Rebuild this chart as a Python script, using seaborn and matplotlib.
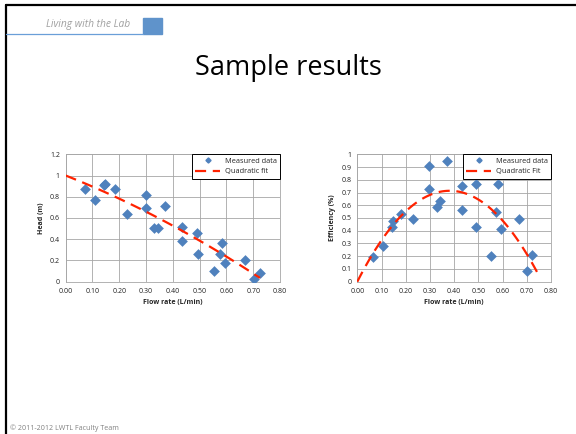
import numpy as np
import pandas as pd
import matplotlib
matplotlib.use("Agg")
import matplotlib.pyplot as plt
import seaborn as sns
from matplotlib.lines import Line2D
from matplotlib.patches import Rectangle

sns.set_style("white")
plt.rcParams['font.family'] = ['Open Sans', 'DejaVu Sans']

# ---- data ----
flow_head = [0.072, 0.11, 0.142, 0.147, 0.184, 0.23, 0.30, 0.30, 0.33, 0.345, 0.37,
             0.433, 0.433, 0.49, 0.493, 0.555, 0.576, 0.582, 0.595, 0.67, 0.704, 0.725]
head = [0.87, 0.77, 0.91, 0.917, 0.87, 0.64, 0.82, 0.69, 0.51, 0.51, 0.71,
        0.515, 0.38, 0.455, 0.26, 0.10, 0.26, 0.36, 0.175, 0.20, 0.03, 0.08]

flow_eff = [0.066, 0.105, 0.142, 0.146, 0.18, 0.23, 0.296, 0.296, 0.328, 0.34, 0.369,
            0.431, 0.431, 0.489, 0.49, 0.552, 0.571, 0.582, 0.592, 0.668, 0.70, 0.723]
eff = [0.19, 0.28, 0.43, 0.475, 0.53, 0.495, 0.91, 0.73, 0.59, 0.63, 0.95,
       0.56, 0.75, 0.77, 0.43, 0.20, 0.55, 0.77, 0.41, 0.495, 0.085, 0.21]

# quadratic trendline coefficients (c0, c1, c2)
head_fit_coef = [1.0, -1.0, -0.455]
head_fit_range = [0.0, 0.725]
eff_fit_coef = [0.0, 3.74, -4.90]
eff_fit_range = [0.0, 0.745]

x_ticks = [0.0, 0.1, 0.2, 0.3, 0.4, 0.5, 0.6, 0.7, 0.8]
head_ticks = [0, 0.2, 0.4, 0.6, 0.8, 1.0, 1.2]
eff_ticks = [0, 0.1, 0.2, 0.3, 0.4, 0.5, 0.6, 0.7, 0.8, 0.9, 1.0]

BLUE = "#4F81BD"
RED = "#FF2200"
GRID = "#A6A6A6"

fig = plt.figure(figsize=(5.76, 4.34), dpi=100)

# slide decorations
fig.add_artist(Line2D([6/576, 6/576], [0, 1 - 5/434], color="black", lw=1.6,
                      transform=fig.transFigure))
fig.add_artist(Line2D([6/576, 1], [1 - 5/434, 1 - 5/434], color="black", lw=1.6,
                      transform=fig.transFigure))
fig.add_artist(Line2D([6/576, 143/576], [1 - 33.5/434, 1 - 33.5/434], color="#6A9FD8",
                      lw=0.9, transform=fig.transFigure))
fig.add_artist(Rectangle((143/576, 1 - 34/434), 19/576, 16/434, color="#5F93CB",
                         transform=fig.transFigure))
fig.text(130/576, 1 - 25/434, "Living with the Lab", fontsize=7.4, style="italic",
         color="#A0A0A0", ha="right", va="center")
fig.text(288/576, 1 - 68/434, "Sample results", fontsize=19.5, color="black",
         ha="center", va="center")
fig.text(10/576, 1 - 428/434, "© 2011-2012 LWTL Faculty Team", fontsize=5.1,
         color="#808080", ha="left", va="center")


def make_axes(rect, fx, fy, coef, frange, yticks, ylabel, fitlabel, ytickfmt):
    ax = fig.add_axes(rect)
    df = pd.DataFrame({"x": fx, "y": fy})
    sns.scatterplot(data=df, x="x", y="y", ax=ax, marker="D", s=30, color=BLUE,
                    edgecolor=BLUE, linewidth=0, zorder=3, legend=False)
    xs = np.linspace(frange[0], frange[1], 100)
    ys = coef[0] + coef[1] * xs + coef[2] * xs ** 2
    sns.lineplot(x=xs, y=ys, ax=ax, color=RED, lw=1.6, zorder=4,
                 dashes=False, legend=False)
    ax.lines[-1].set_dashes([5, 3])
    ax.set_xlim(0, 0.8)
    ax.set_ylim(0, yticks[-1])
    ax.set_xticks(x_ticks)
    ax.set_xticklabels([f"{v:.2f}" for v in x_ticks])
    ax.set_yticks(yticks)
    ax.set_yticklabels([ytickfmt(v) for v in yticks])
    ax.grid(True, color=GRID, lw=0.6)
    ax.set_axisbelow(True)
    for sp in ax.spines.values():
        sp.set_color(GRID)
        sp.set_linewidth(0.6)
    ax.tick_params(axis="both", labelsize=5.0, length=2, width=0.6, color=GRID,
                   pad=2.2, labelcolor="#222222")
    ax.set_xlabel("Flow rate (L/min)", fontsize=5.0, fontweight="bold", labelpad=3.5)
    ax.set_ylabel(ylabel, fontsize=5.0, fontweight="bold", labelpad=3.5)
    handles = [Line2D([], [], marker="D", color=BLUE, ls="none", markersize=2.6),
               Line2D([], [], color=RED, lw=1.6, dashes=[5, 3])]
    leg = ax.legend(handles, ["Measured data", fitlabel], loc="upper right",
                    fontsize=5.3, frameon=True, fancybox=False, framealpha=1,
                    edgecolor="black", borderpad=0.45, handlelength=3.4,
                    labelspacing=0.45, borderaxespad=0, handletextpad=0.6)
    leg.get_frame().set_linewidth(0.7)
    return ax


def fmt_tick(v):
    if v == 0:
        return "0"
    if abs(v - 1.0) < 1e-9:
        return "1"
    return f"{v:.1f}"


make_axes([65.7/576, 1 - 281.7/434, (280 - 65.7)/576, (281.7 - 154.3)/434],
          flow_head, head, head_fit_coef, head_fit_range, head_ticks,
          "Head (m)", "Quadratic fit", fmt_tick)
make_axes([357.3/576, 1 - 281.7/434, (551 - 357.3)/576, (281.7 - 154.3)/434],
          flow_eff, eff, eff_fit_coef, eff_fit_range, eff_ticks,
          "Efficiency (%)", "Quadratic Fit", fmt_tick)

fig.savefig("out.png", dpi=100, facecolor="white")
